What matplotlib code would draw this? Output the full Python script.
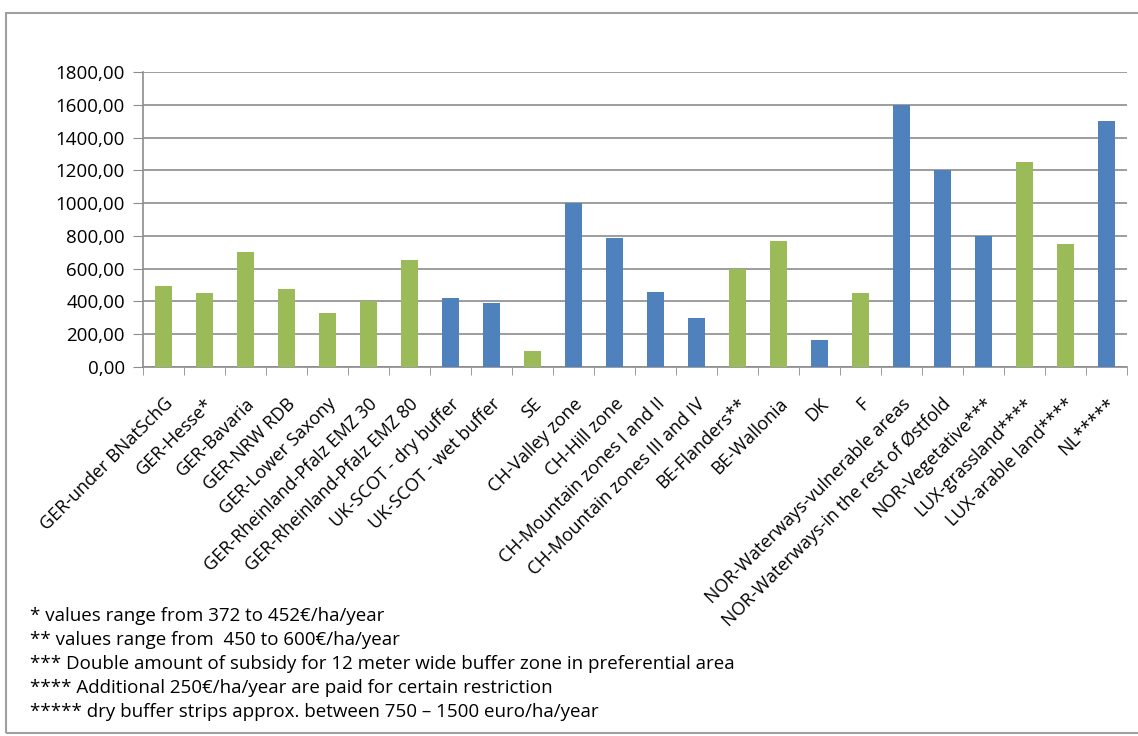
import numpy as np
import matplotlib.pyplot as plt
from matplotlib.patches import Rectangle

# Category labels, values and group (g = green, b = blue)
categories = ['GER-under BNatSchG', 'GER-Hesse*', 'GER-Bavaria', 'GER-NRW RDB',
              'GER-Lower Saxony', 'GER-Rheinland-Pfalz EMZ 30', 'GER-Rheinland-Pfalz EMZ 80',
              'UK-SCOT - dry buffer', 'UK-SCOT - wet buffer', 'SE', 'CH-Valley zone',
              'CH-Hill zone', 'CH-Mountain zones I and II', 'CH-Mountain zones III and IV',
              'BE-Flanders**', 'BE-Wallonia', 'DK', 'F',
              'NOR-Waterways-vulnerable areas', 'NOR-Waterways-in the rest of Østfold',
              'NOR-Vegetative***', 'LUX-grassland****', 'LUX-arable land****', 'NL*****']
values = [495, 450, 700, 475, 330, 400, 650, 420, 390, 100, 1000, 790, 460, 300,
          600, 770, 165, 450, 1600, 1200, 800, 1250, 750, 1500]
groups = ['g', 'g', 'g', 'g', 'g', 'g', 'g', 'b', 'b', 'g', 'b', 'b', 'b', 'b',
          'g', 'g', 'b', 'g', 'b', 'b', 'b', 'g', 'g', 'b']
footnotes = ['* values range from 372 to 452€/ha/year',
             '** values range from  450 to 600€/ha/year',
             '*** Double amount of subsidy for 12 meter wide buffer zone in preferential area',
             '**** Additional 250€/ha/year are paid for certain restriction',
             '***** dry buffer strips approx. between 750 – 1500 euro/ha/year']

palette = {'g': '#9BBB59', 'b': '#4F81BD'}
plt.rcParams['font.family'] = ['Open Sans', 'DejaVu Sans']
fs = 13.5

fig = plt.figure(figsize=(11.38, 7.36), dpi=100)
ax = fig.add_axes([0.1257, 0.5014, 0.8643, 0.4006])

x = np.arange(len(categories))
ax.bar(x, values, width=0.42, color=[palette[g] for g in groups], zorder=3)

ax.set_xlim(-0.5, len(categories) - 0.5)
ax.set_ylim(0, 1800)
ax.set_yticks(np.arange(0, 1801, 200))
ax.set_yticklabels([f'{v},00' for v in range(0, 1801, 200)], fontsize=fs)
ax.grid(axis='y', color='#8c8c8c', linewidth=1.2, zorder=0)

ax.set_xticks(x)
ax.set_xticklabels(categories, rotation=45, ha='right', va='top',
                   rotation_mode='anchor', fontsize=13)
ax.set_xticks(np.arange(-0.5, len(categories)), minor=True)
ax.tick_params(axis='x', which='major', length=0, pad=20)
ax.tick_params(axis='x', which='minor', length=6, color='#8c8c8c')
ax.tick_params(axis='y', length=7, color='#8c8c8c', pad=6)

for side in ['top', 'right']:
    ax.spines[side].set_visible(False)
for side in ['left', 'bottom']:
    ax.spines[side].set_color('#8c8c8c')
    ax.spines[side].set_linewidth(1.2)

# footnotes
for i, note in enumerate(footnotes):
    fig.text(0.026, 1 - (616 + 24 * i) / 736, note, fontsize=fs, va='center')

# outer frame
fig.patches.append(Rectangle((0.005, 0.004), 1.2, 0.978, transform=fig.transFigure,
                             fill=False, edgecolor='#a0a0a0', linewidth=1.5))

plt.savefig('out.png', dpi=100)
